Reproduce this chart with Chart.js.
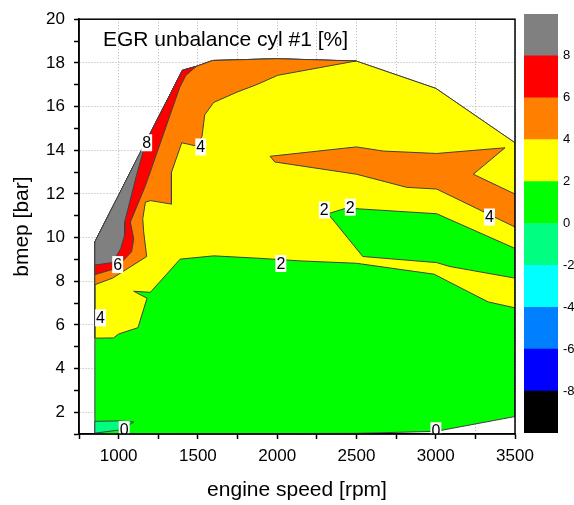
<!DOCTYPE html>
<html>
<head>
<meta charset="utf-8">
<script src="https://cdn.jsdelivr.net/npm/chart.js"></script>
<style>
  html, body { margin: 0; padding: 0; background: #fff; overflow: hidden; }
  #wrap { position: relative; width: 574px; height: 505px; }
  #mapChart { position: absolute; left: 0; top: 0; }
  #scaleBar { position: absolute; left: 520px; top: 0; }
</style>
</head>
<body>
<div id="wrap">
  <canvas id="mapChart" width="574" height="505"></canvas>
  <canvas id="scaleBar" width="68" height="505"></canvas>
</div>
<script>
// contour regions, [engine speed rpm, bmep bar]
const outline = [[850, 1.0], [850, 9.8], [1402, 17.66], [1490, 17.84], [1593, 18.11], [1996, 18.19],
  [2500, 18.08], [3001, 16.83], [3500, 14.34], [3500, 1.8], [3000, 1.12], [2500, 1.03]];
const above2 = [[850, 5.39], [968, 5.4], [1000, 5.58], [1122, 5.87], [1179, 7.22], [1095, 7.54], [1200, 7.49],
  [1388, 9.01], [1600, 9.16], [1884, 9.05], [2143, 8.93], [2500, 8.82], [2990, 8.32], [3075, 8.0],
  [3331, 7.05], [3500, 6.78], [3500, 14.34], [3001, 16.83], [2500, 18.08], [1996, 18.19], [1593, 18.11],
  [1490, 17.84], [1402, 17.66], [850, 9.8]];
const below2Island = [[2321, 11.09], [2437, 11.35], [2521, 11.31], [3006, 11.09], [3500, 9.5], [3500, 8.14],
  [3090, 8.67], [3006, 8.85], [2540, 9.13]];
const above4Top = [[850, 7.84], [850, 9.8], [1402, 17.66], [1490, 17.84], [1593, 18.11], [1996, 18.19],
  [2500, 18.09], [2004, 17.43], [1863, 16.98], [1753, 16.68], [1600, 16.19], [1543, 15.62], [1526, 14.64],
  [1492, 14.19], [1398, 14.34], [1333, 12.98], [1333, 11.53], [1202, 11.69], [1169, 11.62], [1152, 10.86],
  [1158, 10.26], [1177, 9.13], [962, 8.14]];
const above4Band = [[1955, 13.72], [1985, 13.46], [2500, 12.9], [2816, 12.3], [3006, 12.22], [3500, 10.48],
  [3500, 11.99], [3237, 12.9], [3437, 14.11], [3006, 13.85], [2669, 13.96], [2500, 14.15]];
const above6 = [[850, 8.3], [850, 9.8], [1402, 17.66], [1490, 17.84], [1423, 17.42], [1385, 16.87],
  [1170, 12.39], [1074, 10.71], [1095, 9.94], [1082, 9.35], [981, 8.58]];
const above8 = [[850, 9.8], [1173, 14.43], [1112, 12.83], [1038, 10.71], [1038, 10.12], [1013, 9.49],
  [962, 8.85], [850, 8.74]];
const below0 = [[850, 1.58], [1000, 1.6], [1095, 1.55], [1013, 1.19], [850, 1.04]];

// contour labels
const labelText = ['8', '4', '6', '4', '2', '2', '2', '4', '0', '0'];
const labelRpm = [1177, 1518, 994, 886, 2023, 2297, 2461, 3339, 1035, 3001];
const labelBar = [14.34, 14.15, 8.76, 6.32, 8.81, 11.26, 11.39, 10.94, 1.2, 1.15];

// colour scale
const levelBounds = [-10, -8, -6, -4, -2, 0, 2, 4, 6, 8, 10];
const levelColors = ['#000000', '#0000FF', '#0080FF', '#00FFFF', '#00FF80', '#00FF00', '#FFFF00', '#FF8000', '#FF0000', '#808080'];

const FONT = '"Liberation Sans", Arial, sans-serif';
Chart.defaults.font.family = FONT;
Chart.defaults.color = '#000';

// paint order, bottom first
const layers = [
  [outline, '#00FF00'],
  [above2, '#FFFF00'],
  [below2Island, '#00FF00'],
  [above4Top, '#FF8000'],
  [above4Band, '#FF8000'],
  [above6, '#FF0000'],
  [above8, '#808080'],
  [below0, '#00FF80'],
];

const contourLabels = {
  id: 'contourLabels',
  afterDatasetsDraw(chart) {
    const { ctx, chartArea, scales: { x, y } } = chart;
    ctx.save();
    ctx.beginPath();
    ctx.rect(chartArea.left, chartArea.top, chartArea.right - chartArea.left, chartArea.bottom - chartArea.top);
    ctx.clip();
    ctx.font = '16px ' + FONT;
    ctx.textAlign = 'center';
    ctx.textBaseline = 'middle';
    labelText.forEach((t, i) => {
      const px = x.getPixelForValue(labelRpm[i]);
      const py = y.getPixelForValue(labelBar[i]);
      const w = ctx.measureText(t).width + 2;
      ctx.fillStyle = '#fff';
      ctx.fillRect(px - w / 2, py - 8.5, w, 17);
      ctx.fillStyle = '#000';
      ctx.fillText(t, px, py + 1);
    });
    ctx.restore();
  }
};

const frameAndTitle = {
  id: 'frameAndTitle',
  afterDraw(chart) {
    const { ctx, chartArea } = chart;
    ctx.save();
    ctx.strokeStyle = '#000';
    ctx.lineWidth = 1.5;
    ctx.strokeRect(chartArea.left, chartArea.top, chartArea.right - chartArea.left, chartArea.bottom - chartArea.top);
    ctx.font = '21px ' + FONT;
    ctx.fillStyle = '#000';
    ctx.textBaseline = 'alphabetic';
    ctx.fillText('EGR unbalance cyl #1 [%]', chartArea.left + 24, chartArea.top + 27);
    ctx.restore();
  }
};

new Chart(document.getElementById('mapChart'), {
  type: 'scatter',
  data: {
    datasets: layers.map(([pts, color], i) => ({
      data: pts.concat([pts[0]]).map(([x, y]) => ({ x, y })),
      showLine: true,
      fill: 'shape',
      backgroundColor: color,
      borderColor: '#404040',
      borderWidth: 1,
      pointRadius: 0,
      tension: 0,
      order: layers.length - i
    }))
  },
  options: {
    responsive: false,
    animation: false,
    events: [],
    layout: { padding: { left: 0, top: 15, right: 59, bottom: 0 } },
    plugins: { legend: { display: false }, tooltip: { enabled: false } },
    scales: {
      x: {
        type: 'linear', min: 750, max: 3500,
        ticks: {
          stepSize: 250, autoSkip: false, maxRotation: 0, padding: 7,
          font: { size: 17 },
          callback: (v) => (v % 500 === 0 ? v : '')
        },
        grid: { color: '#b0b0b0', lineWidth: 1, tickColor: '#000', tickLength: 5, tickWidth: 1.5 },
        border: { color: '#000', width: 1.5, dash: [1, 2] },
        title: { display: true, text: 'engine speed [rpm]', font: { size: 21 }, padding: { top: 0, bottom: 2 } },
        afterFit: (s) => { s.height = 71; }
      },
      y: {
        type: 'linear', min: 1, max: 20,
        ticks: {
          stepSize: 1, autoSkip: false, padding: 9,
          font: { size: 17 },
          callback: (v) => (v % 2 === 0 ? v : '')
        },
        grid: {
          color: (c) => (c.tick && c.tick.value % 2 === 0 ? '#b0b0b0' : 'rgba(0,0,0,0)'),
          lineWidth: 1, tickColor: '#000', tickLength: 5, tickWidth: 1.5
        },
        border: { color: '#000', width: 1.5, dash: [1, 2] },
        title: { display: true, text: 'bmep [bar]', font: { size: 21 }, padding: { top: 10, bottom: 0 } },
        afterFit: (s) => { s.width = 79; }
      }
    }
  },
  plugins: [contourLabels, frameAndTitle]
});

// colour scale bar
new Chart(document.getElementById('scaleBar'), {
  type: 'bar',
  data: {
    labels: [''],
    datasets: levelColors.map((c, i) => ({
      data: [[levelBounds[i], levelBounds[i + 1]]],
      backgroundColor: c,
      borderWidth: 0,
      barPercentage: 1,
      categoryPercentage: 1,
      grouped: false
    }))
  },
  options: {
    responsive: false,
    animation: false,
    events: [],
    layout: { padding: { left: 4, top: 14, right: 0, bottom: 72 } },
    plugins: { legend: { display: false }, tooltip: { enabled: false } },
    scales: {
      x: { display: false },
      y: {
        position: 'right', min: -10, max: 10,
        ticks: {
          stepSize: 2, padding: 5, font: { size: 13 },
          callback: (v) => (v === -10 || v === 10 ? '' : v)
        },
        grid: { display: false, drawTicks: false },
        border: { display: false },
        afterFit: (s) => { s.width = 30; }
      }
    }
  }
});
</script>
</body>
</html>
